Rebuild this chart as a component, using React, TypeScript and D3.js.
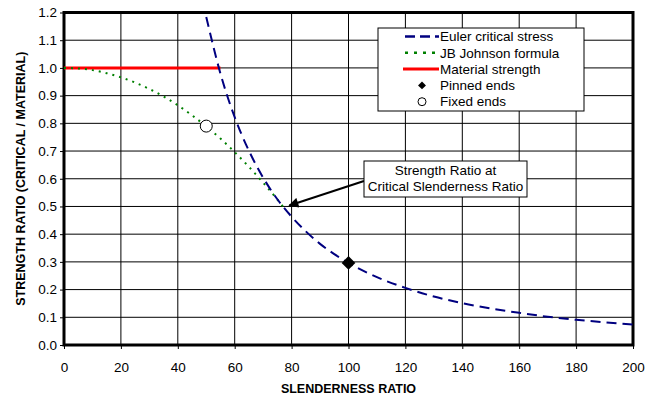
import { useEffect, useRef } from 'react';
import * as d3 from 'd3';

// values
const eulerX = [50, 55, 60, 65, 70, 75, 80, 85, 90, 95, 100, 110, 120, 130, 140, 150, 160, 170, 180, 190, 200];
const eulerY = [1.184, 0.979, 0.822, 0.701, 0.604, 0.526, 0.463, 0.41, 0.365, 0.328, 0.296, 0.245, 0.206, 0.175, 0.151, 0.132, 0.116, 0.102, 0.091, 0.082, 0.074];
const johnsonX = [0, 5, 10, 15, 20, 25, 30, 35, 40, 45, 50, 55, 60, 65, 70, 75, 77];
const johnsonY = [1.0, 0.998, 0.992, 0.981, 0.966, 0.947, 0.924, 0.897, 0.865, 0.829, 0.789, 0.745, 0.696, 0.643, 0.586, 0.525, 0.499];
const materialX = [0, 55];
const materialY = [1.0, 1.0];
const pinned = { x: 100, y: 0.296 };
const fixed = { x: 50, y: 0.79 };
const critical = { x: 78.5, y: 0.5 };
const xTicks = [0, 20, 40, 60, 80, 100, 120, 140, 160, 180, 200];
const yTicks = [0, 0.1, 0.2, 0.3, 0.4, 0.5, 0.6, 0.7, 0.8, 0.9, 1.0, 1.1, 1.2];
const legendItems = ['Euler critical stress', 'JB Johnson formula', 'Material strength', 'Pinned ends', 'Fixed ends'];

export default function App() {
  const ref = useRef<SVGSVGElement>(null);

  useEffect(() => {
    const W = 655, H = 398;
    const margin = { top: 12.5, right: 22, bottom: 53, left: 64 };
    const width = W - margin.left - margin.right;
    const height = H - margin.top - margin.bottom;
    const font = '"Liberation Sans", Arial, sans-serif';

    const root = d3.select(ref.current);
    root.selectAll('*').remove();

    const defs = root.append('defs');
    defs.append('clipPath').attr('id', 'plot-clip')
      .append('rect').attr('width', width).attr('height', height);
    defs.append('marker')
      .attr('id', 'arrow')
      .attr('viewBox', '0 0 10 10')
      .attr('refX', 9).attr('refY', 5)
      .attr('markerWidth', 6).attr('markerHeight', 5)
      .attr('orient', 'auto')
      .append('path').attr('d', 'M0,0L10,5L0,10Z').attr('fill', '#000');

    const svg = root.append('g').attr('transform', `translate(${margin.left},${margin.top})`);

    const x = d3.scaleLinear().domain([0, 200]).range([0, width]);
    const y = d3.scaleLinear().domain([0, 1.2]).range([height, 0]);

    // grid
    svg.append('g').selectAll('line').data(xTicks.slice(1, -1)).join('line')
      .attr('x1', d => x(d)).attr('x2', d => x(d))
      .attr('y1', 0).attr('y2', height)
      .attr('stroke', '#000').attr('stroke-width', 1);
    svg.append('g').selectAll('line').data(yTicks.slice(1, -1)).join('line')
      .attr('x1', 0).attr('x2', width)
      .attr('y1', d => y(d)).attr('y2', d => y(d))
      .attr('stroke', '#000').attr('stroke-width', 1);

    // axes
    const xAxis = svg.append('g')
      .attr('transform', `translate(0,${height})`)
      .call(d3.axisBottom(x).tickValues(xTicks).tickSize(4).tickSizeOuter(0).tickFormat(d3.format('d')));
    const yAxis = svg.append('g')
      .call(d3.axisLeft(y).tickValues(yTicks).tickSize(4).tickSizeOuter(0).tickFormat(d3.format('.1f')));
    [xAxis, yAxis].forEach(a => {
      a.select('.domain').remove();
      a.selectAll('text').attr('font-family', font).attr('font-size', 13.5).attr('fill', '#000');
    });
    xAxis.selectAll('text').attr('y', 13).attr('dy', '1em');
    yAxis.selectAll('text').attr('x', -7);

    // border
    svg.append('rect')
      .attr('width', width).attr('height', height)
      .attr('fill', 'none').attr('stroke', '#000').attr('stroke-width', 3);

    const plot = svg.append('g').attr('clip-path', 'url(#plot-clip)');
    const line = d3.line<[number, number]>().x(d => x(d[0])).y(d => y(d[1])).curve(d3.curveMonotoneX);

    plot.append('path')
      .attr('d', line(materialX.map((v, i) => [v, materialY[i]])))
      .attr('fill', 'none').attr('stroke', '#ff0000').attr('stroke-width', 3);
    plot.append('path')
      .attr('d', line(johnsonX.map((v, i) => [v, johnsonY[i]])))
      .attr('fill', 'none').attr('stroke', '#008000').attr('stroke-width', 2)
      .attr('stroke-dasharray', '2,5');
    plot.append('path')
      .attr('d', line(eulerX.map((v, i) => [v, eulerY[i]])))
      .attr('fill', 'none').attr('stroke', '#000080').attr('stroke-width', 2)
      .attr('stroke-dasharray', '10,6');

    // points
    const diamond = d3.symbol().type(d3.symbolDiamond2).size(120);
    svg.append('path')
      .attr('d', diamond())
      .attr('transform', `translate(${x(pinned.x)},${y(pinned.y)})`)
      .attr('fill', '#000');
    svg.append('circle')
      .attr('cx', x(fixed.x)).attr('cy', y(fixed.y)).attr('r', 6)
      .attr('fill', '#fff').attr('stroke', '#000').attr('stroke-width', 1);

    // annotation
    const box = { x: 300, y: 148.5, w: 163, h: 36 };
    svg.append('line')
      .attr('x1', box.x).attr('y1', box.y + 20)
      .attr('x2', x(critical.x) + 2).attr('y2', y(critical.y) - 1)
      .attr('stroke', '#000').attr('stroke-width', 2)
      .attr('marker-end', 'url(#arrow)');
    svg.append('rect')
      .attr('x', box.x).attr('y', box.y).attr('width', box.w).attr('height', box.h)
      .attr('fill', '#fff').attr('stroke', '#000').attr('stroke-width', 1);
    ['Strength Ratio at', 'Critical Slenderness Ratio'].forEach((t, i) => {
      svg.append('text')
        .attr('x', box.x + box.w / 2).attr('y', box.y + 14 + i * 16)
        .attr('text-anchor', 'middle')
        .attr('font-family', font).attr('font-size', 13.5)
        .text(t);
    });

    // legend
    const lg = svg.append('g').attr('transform', `translate(${378 - margin.left},${28 - margin.top})`);
    lg.append('rect').attr('width', 206).attr('height', 83)
      .attr('fill', '#fff').attr('stroke', '#000').attr('stroke-width', 1);
    legendItems.forEach((name, i) => {
      const cy = 8.5 + i * 16.3;
      const g = lg.append('g').attr('transform', `translate(0,${cy})`);
      if (i === 0) {
        g.append('line').attr('x1', 27).attr('x2', 61).attr('stroke', '#000080').attr('stroke-width', 2.5).attr('stroke-dasharray', '10,5');
      } else if (i === 1) {
        g.append('line').attr('x1', 27).attr('x2', 61).attr('stroke', '#008000').attr('stroke-width', 2.5).attr('stroke-dasharray', '3,6');
      } else if (i === 2) {
        g.append('line').attr('x1', 25).attr('x2', 61).attr('stroke', '#ff0000').attr('stroke-width', 3);
      } else if (i === 3) {
        g.append('path').attr('d', d3.symbol().type(d3.symbolDiamond2).size(40)()).attr('transform', 'translate(44,0)').attr('fill', '#000');
      } else {
        g.append('circle').attr('cx', 44).attr('r', 4).attr('fill', '#fff').attr('stroke', '#000');
      }
      g.append('text').attr('x', 62).attr('dy', '0.35em')
        .attr('font-family', font).attr('font-size', 13.5).text(name);
    });

    // axis titles
    svg.append('text')
      .attr('x', width / 2).attr('y', height + 48)
      .attr('text-anchor', 'middle')
      .attr('font-family', font).attr('font-size', 12.5).attr('font-weight', 'bold')
      .text('SLENDERNESS RATIO');
    svg.append('text')
      .attr('transform', `translate(${21 - margin.left},${height / 2}) rotate(-90)`)
      .attr('text-anchor', 'middle').attr('dy', '0.35em')
      .attr('font-family', font).attr('font-size', 12.5).attr('font-weight', 'bold')
      .text('STRENGTH RATIO (CRITICAL / MATERIAL)');
  }, []);

  return (
    <svg ref={ref} width={655} height={398}
      style={{ position: 'absolute', left: 0, top: 0, background: '#fff' }} />
  );
}
